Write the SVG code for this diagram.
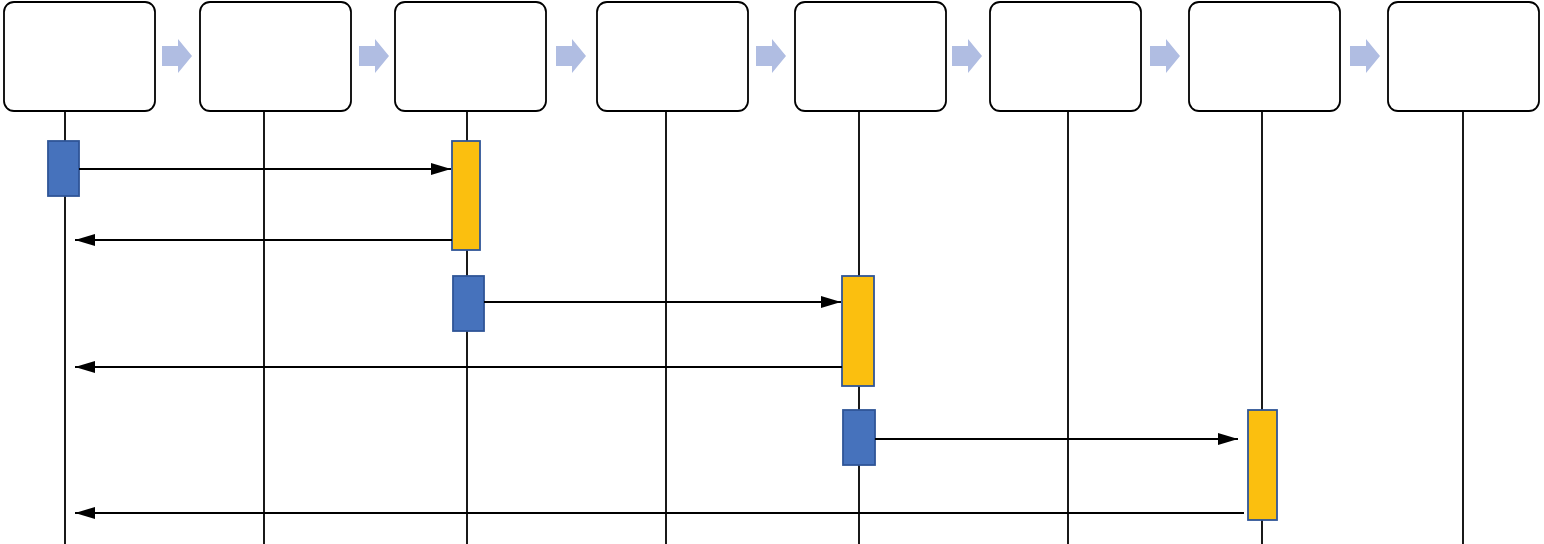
<svg xmlns="http://www.w3.org/2000/svg" width="1544" height="544" viewBox="0 0 1544 544">
<style>
.box{fill:#fff;stroke:#000;stroke-width:1.8}
.life{stroke:#000;stroke-width:1.8;fill:none}
.msg{stroke:#000;stroke-width:1.8;fill:none;marker-end:url(#ah)}
.flow{fill:#b0bde2}
.call{fill:#4672bc;stroke:#2f5597;stroke-width:1.8}
.act{fill:#fbbf0f;stroke:#2f5597;stroke-width:1.8}
</style>
<defs>
<marker id="ah" markerUnits="userSpaceOnUse" markerWidth="20" markerHeight="12" refX="20" refY="6" orient="auto">
<path d="M0,0 L20,6 L0,12 Z" fill="#000"/>
</marker>
<path id="fa" d="M0,-10 H16 V-17 L30,0 L16,17 V10 H0 Z"/>
</defs>
<rect width="1544" height="544" fill="#fff"/>
<g id="lifelines">
<line class="life" x1="65" y1="111" x2="65" y2="544"/>
<line class="life" x1="264" y1="111" x2="264" y2="544"/>
<line class="life" x1="467" y1="111" x2="467" y2="544"/>
<line class="life" x1="666" y1="111" x2="666" y2="544"/>
<line class="life" x1="859" y1="111" x2="859" y2="544"/>
<line class="life" x1="1068" y1="111" x2="1068" y2="544"/>
<line class="life" x1="1262" y1="111" x2="1262" y2="544"/>
<line class="life" x1="1463" y1="111" x2="1463" y2="544"/>
</g>
<g id="node1"><rect class="box" x="4" y="2" width="151" height="109" rx="10"/></g>
<g id="node2"><rect class="box" x="200" y="2" width="151" height="109" rx="10"/></g>
<g id="node3"><rect class="box" x="395" y="2" width="151" height="109" rx="10"/></g>
<g id="node4"><rect class="box" x="597" y="2" width="151" height="109" rx="10"/></g>
<g id="node5"><rect class="box" x="795" y="2" width="151" height="109" rx="10"/></g>
<g id="node6"><rect class="box" x="990" y="2" width="151" height="109" rx="10"/></g>
<g id="node7"><rect class="box" x="1189" y="2" width="151" height="109" rx="10"/></g>
<g id="node8"><rect class="box" x="1388" y="2" width="151" height="109" rx="10"/></g>
<g id="flow-arrows">
<use href="#fa" class="flow" x="162" y="56"/>
<use href="#fa" class="flow" x="359" y="56"/>
<use href="#fa" class="flow" x="556" y="56"/>
<use href="#fa" class="flow" x="756" y="56"/>
<use href="#fa" class="flow" x="952" y="56"/>
<use href="#fa" class="flow" x="1150" y="56"/>
<use href="#fa" class="flow" x="1350" y="56"/>
</g>
<g id="activations">
<rect class="call" x="48" y="141" width="31" height="55"/>
<rect class="act" x="452" y="141" width="28" height="109"/>
<rect class="call" x="453" y="276" width="31" height="55"/>
<rect class="act" x="842" y="276" width="32" height="110"/>
<rect class="call" x="843" y="410" width="32" height="55"/>
<rect class="act" x="1248" y="410" width="29" height="110"/>
</g>
<g id="connectors">
<line class="msg" x1="79" y1="169" x2="451" y2="169"/>
<line class="msg" x1="452" y1="240" x2="75" y2="240"/>
<line class="msg" x1="484" y1="302" x2="841" y2="302"/>
<line class="msg" x1="842" y1="367" x2="75" y2="367"/>
<line class="msg" x1="875" y1="439" x2="1238" y2="439"/>
<line class="msg" x1="1244" y1="513" x2="75" y2="513"/>
</g>
</svg>
